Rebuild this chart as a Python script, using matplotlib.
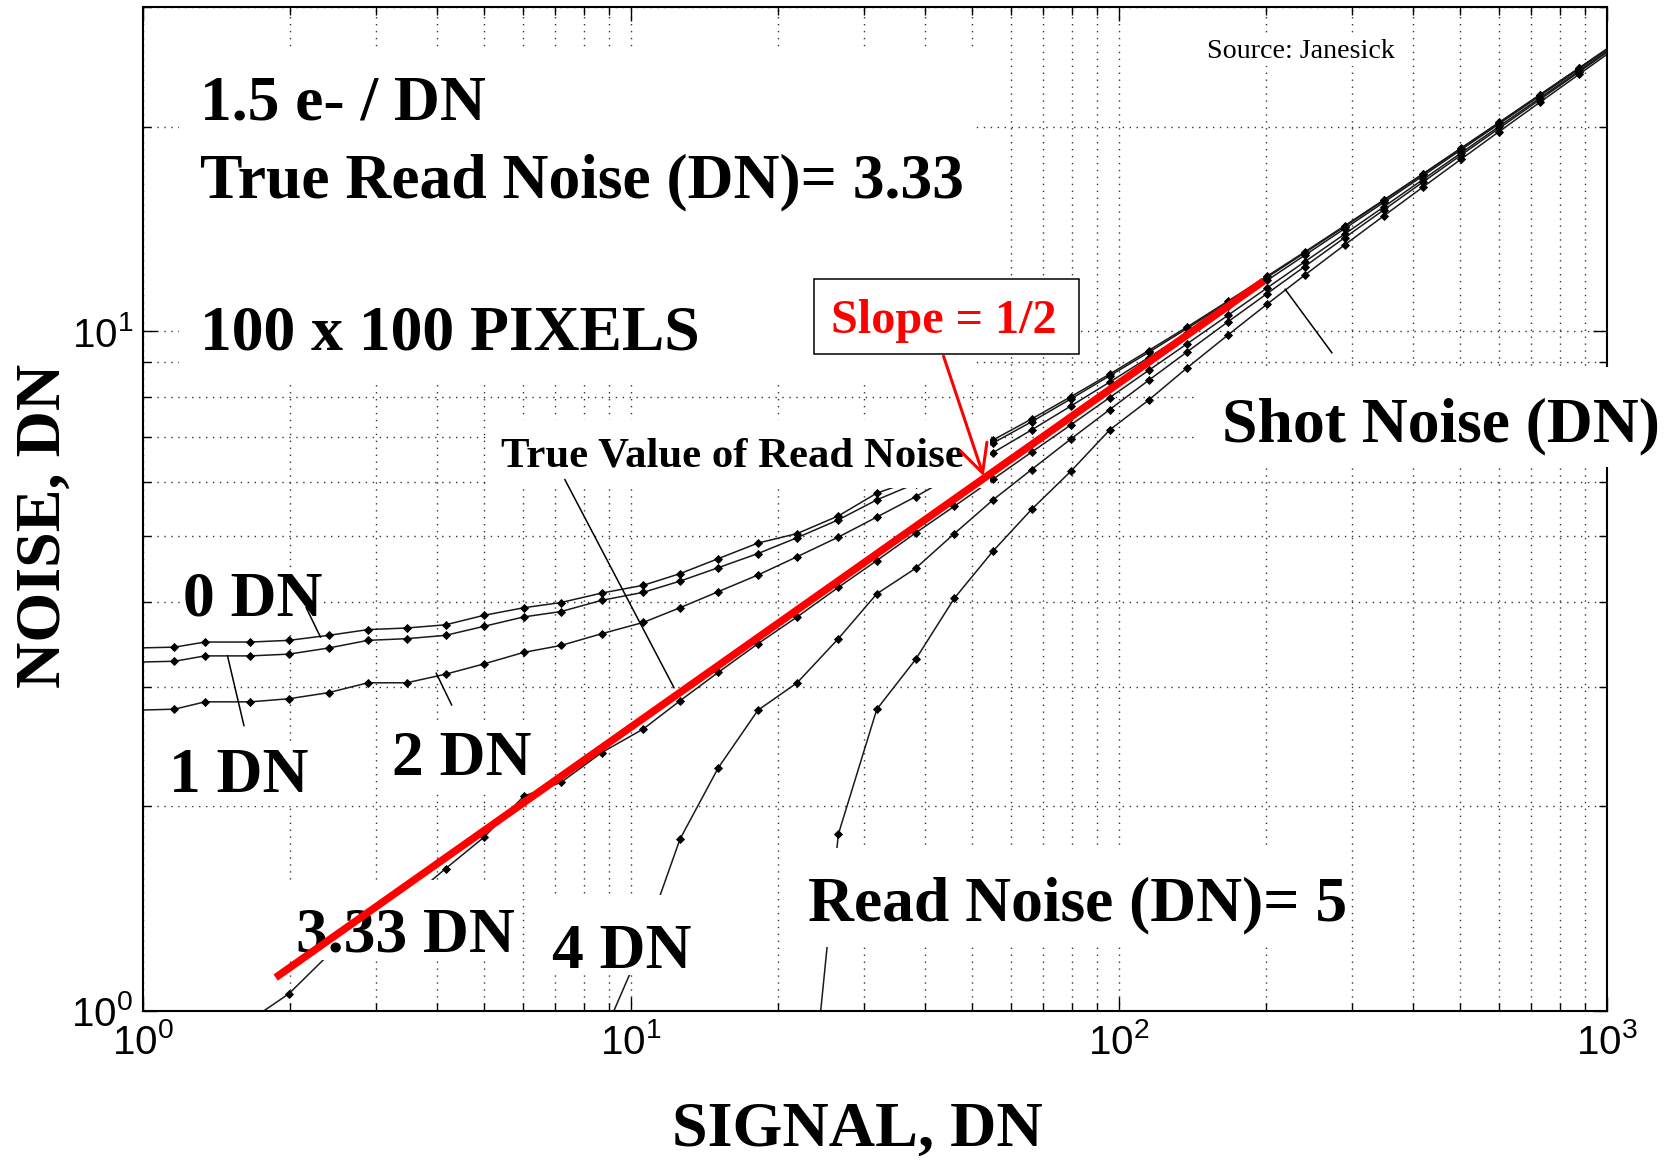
import numpy as np
import matplotlib
matplotlib.use("Agg")
import matplotlib.pyplot as plt
from matplotlib.patches import Rectangle
from matplotlib.ticker import FuncFormatter, NullFormatter, LogLocator

# ---------------- data ----------------
signal = [0.96, 1.16, 1.34, 1.66, 1.99, 2.40, 2.89, 3.47, 4.17, 4.99,
          6.03, 7.19, 8.71, 10.6, 12.6, 15.1, 18.2, 21.9, 26.6, 31.9,
          38.3, 46.0, 55.2, 66.2, 79.6, 95.7, 115, 138, 167, 201,
          240, 290, 349, 420, 502, 601, 729, 877, 1055]

nan = float("nan")

noise_0dn = [3.42, 3.43, 3.49, 3.49, 3.51, 3.57, 3.64, 3.66, 3.70, 3.82,
             3.92, 3.99, 4.12, 4.23, 4.40, 4.63, 4.88, 5.04, 5.35, 5.78,
             6.05, 6.46, 6.92, 7.43, 8.01, 8.65, 9.37, 10.15, 11.07, 12.05,
             13.08, 14.30, 15.61, 17.06, 18.60, 20.29, 22.30, 24.41, 26.73]

noise_1dn = [3.26, 3.27, 3.33, 3.33, 3.35, 3.42, 3.51, 3.53, 3.57, 3.68,
             3.80, 3.87, 4.02, 4.13, 4.29, 4.49, 4.71, 4.97, 5.28, 5.65,
             5.97, 6.38, 6.85, 7.36, 7.95, 8.60, 9.31, 10.10, 11.02, 12.00,
             13.04, 14.26, 15.58, 17.03, 18.57, 20.27, 22.27, 24.39, 26.71]

noise_2dn = [2.77, 2.78, 2.85, 2.85, 2.88, 2.94, 3.04, 3.04, 3.13, 3.24,
             3.37, 3.45, 3.59, 3.73, 3.92, 4.14, 4.38, 4.66, 4.98, 5.33,
             5.71, 6.15, 6.63, 7.16, 7.76, 8.42, 9.15, 9.95, 10.88, 11.88,
             12.93, 14.16, 15.48, 16.94, 18.49, 20.19, 22.21, 24.33, 26.65]

noise_333dn = [0.74, 0.81, 0.86, 0.97, 1.06, 1.21, 1.31, 1.45, 1.62, 1.80,
               2.07, 2.17, 2.40, 2.60, 2.86, 3.15, 3.47, 3.80, 4.20, 4.60,
               5.05, 5.53, 6.06, 6.64, 7.28, 7.99, 8.76, 9.59, 10.55, 11.58,
               12.65, 13.90, 15.25, 16.73, 18.29, 20.02, 22.05, 24.18, 26.52]

noise_4dn = [nan, nan, nan, nan, nan, nan, nan, nan, nan, nan,
             nan, nan, 0.91, 1.26, 1.79, 2.28, 2.77, 3.04, 3.53, 4.11,
             4.48, 5.04, 5.65, 6.26, 6.94, 7.67, 8.47, 9.33, 10.32, 11.36,
             12.45, 13.73, 15.09, 16.59, 18.16, 19.89, 21.93, 24.08, 26.43]

noise_5dn = [nan, nan, nan, nan, nan, nan, nan, nan, nan, nan,
             nan, nan, nan, nan, nan, nan, nan, 0.45, 1.82, 2.78,
             3.29, 4.05, 4.75, 5.47, 6.22, 7.16, 7.92, 8.84, 9.87, 10.96,
             12.09, 13.40, 14.79, 16.31, 17.91, 19.67, 21.73, 23.89, 26.26]

curves = [noise_0dn, noise_1dn, noise_2dn, noise_333dn, noise_4dn, noise_5dn]

# slope = 1/2 reference line (end points)
red_signal = [1.87, 198.0]
red_noise = [1.12, 11.86]

# leader lines (annotation end points, data coords)
leader_0dn = ([2.16, 2.31], [3.92, 3.55])
leader_1dn = ([1.49, 1.61], [3.33, 2.63])
leader_2dn = ([3.99, 4.29], [3.14, 2.82])
leader_true = ([7.32, 12.25], [6.05, 2.99])
leader_shot = ([219.0, 273.0], [11.53, 9.30])
arrow_from = (43.7, 9.19)
arrow_to = (52.8, 6.12)

x_limits = (1, 1000)
y_limits = (1, 30)

# ---------------- figure ----------------
W, H = 1672, 1160
plt.rcParams["font.family"] = ["Liberation Sans", "DejaVu Sans"]
plt.rcParams["mathtext.fontset"] = "custom"
plt.rcParams["mathtext.rm"] = "Liberation Sans"

fig = plt.figure(figsize=(W / 100, H / 100), dpi=100)


def fx(x):
    return x / W


def fy(y):
    return 1 - y / H


ax = fig.add_axes([fx(143), fy(1011), (1607 - 143) / W, (1011 - 7) / H])
ax.set_xscale("log")
ax.set_yscale("log")
ax.set_xlim(*x_limits)
ax.set_ylim(*y_limits)

ax.set_axisbelow(True)
grid_style = dict(linestyle=(0, (1, 4)), color="0.2", linewidth=1.0)
ax.grid(True, which="major", **grid_style)
ax.grid(True, which="minor", **grid_style)

ax.xaxis.set_major_locator(LogLocator(base=10))
ax.yaxis.set_major_locator(LogLocator(base=10))
ax.xaxis.set_minor_locator(LogLocator(base=10, subs=range(2, 10)))
ax.yaxis.set_minor_locator(LogLocator(base=10, subs=range(2, 10)))
fmt = FuncFormatter(lambda v, p: r"$\mathregular{10^{%d}}$" % int(round(np.log10(v))))
ax.xaxis.set_major_formatter(fmt)
ax.yaxis.set_major_formatter(fmt)
ax.xaxis.set_minor_formatter(NullFormatter())
ax.yaxis.set_minor_formatter(NullFormatter())

ax.tick_params(which="both", direction="in", top=True, right=True,
               width=1.0, color="black")
ax.tick_params(which="major", length=10, labelsize=29)
ax.tick_params(axis="x", which="major", pad=9)
ax.tick_params(axis="y", which="major", pad=7)
ax.tick_params(which="minor", length=6)
for sp in ax.spines.values():
    sp.set_linewidth(1.5)
    sp.set_color("black")

# data curves
for n in curves:
    ax.plot(signal, n, color="0.1", lw=1.1, marker="D", ms=3.9,
            mfc="black", mec="black", mew=0.6, zorder=2)

# white text-box masks (full-image pixel boxes: x0, y0, x1, y1)
masks = [
    (179, 48, 975, 380),     # top-left text block
    (490, 420, 990, 488),    # True Value of Read Noise
    (181, 568, 322, 633),    # 0 DN
    (166, 742, 306, 806),    # 1 DN
    (390, 725, 530, 790),    # 2 DN
    (285, 880, 518, 960),    # 3.33 DN
    (545, 895, 695, 975),    # 4 DN
    (800, 848, 1348, 947),   # Read Noise (DN)= 5
    (1198, 367, 1672, 467),  # Shot Noise (DN)
    (1204, 36, 1397, 66),    # Source
]
for x0, y0, x1, y1 in masks:
    ax.add_patch(Rectangle((fx(x0), fy(y1)), (x1 - x0) / W, (y1 - y0) / H,
                           transform=fig.transFigure, facecolor="white",
                           edgecolor="none", zorder=3, clip_on=False))

SERIF = ["Liberation Serif", "DejaVu Serif"]
BIG = 45.8


def label(s, x, y, size=BIG, color="black", weight="bold", ha="left"):
    ax.text(fx(x), fy(y), s, transform=fig.transFigure, fontsize=size,
            fontweight=weight, family=SERIF, color=color, ha=ha,
            va="baseline", zorder=3.5, clip_on=False)


label("1.5 e- / DN", 200, 120)
label("True Read Noise (DN)= 3.33", 200, 197)
label("100 x 100 PIXELS", 200, 350)
label("0 DN", 183, 616)
label("1 DN", 169, 792)
label("2 DN", 392, 775)
label("3.33 DN", 296, 952)
label("4 DN", 552, 968)
label("Read Noise (DN)= 5", 808, 920)
label("Shot Noise (DN)", 1222, 441)
label("True Value of Read Noise", 501, 466, size=30.8)
label("Source: Janesick", 1207, 58, size=20.2, weight="normal")

# leader lines
for lx, ly in [leader_0dn, leader_1dn, leader_2dn, leader_true, leader_shot]:
    ax.plot(lx, ly, color="black", lw=1.1, zorder=4)

# red slope line and arrow
ax.plot(red_signal, red_noise, color="#ff0000", lw=5.4,
        solid_capstyle="butt", zorder=5)
ax.annotate("", xy=arrow_to, xytext=arrow_from,
            arrowprops=dict(arrowstyle="->,head_length=1.0,head_width=0.5",
                            color="#ff0000", lw=2.2, shrinkA=0, shrinkB=0,
                            mutation_scale=20),
            zorder=6)

# slope box
ax.add_patch(Rectangle((fx(813.5), fy(354)), (1079 - 813.5) / W, (354 - 279) / H,
                       transform=fig.transFigure, facecolor="white",
                       edgecolor="black", lw=1.1, zorder=6, clip_on=False))
ax.text(fx(944), fy(333), "Slope = 1/2", transform=fig.transFigure,
        fontsize=34.7, fontweight="bold", family=SERIF, color="#ff0000",
        ha="center", va="baseline", zorder=6.5, clip_on=False)

# axis titles
fig.text(fx(857), fy(1146), "SIGNAL, DN", fontsize=46.2, fontweight="bold",
         family=SERIF, ha="center", va="baseline")
fig.text(fx(45), fy(526), "NOISE, DN", fontsize=46.2, fontweight="bold",
         family=SERIF, ha="center", va="center", rotation=90)

fig.savefig("out.png", dpi=100, facecolor="white")
